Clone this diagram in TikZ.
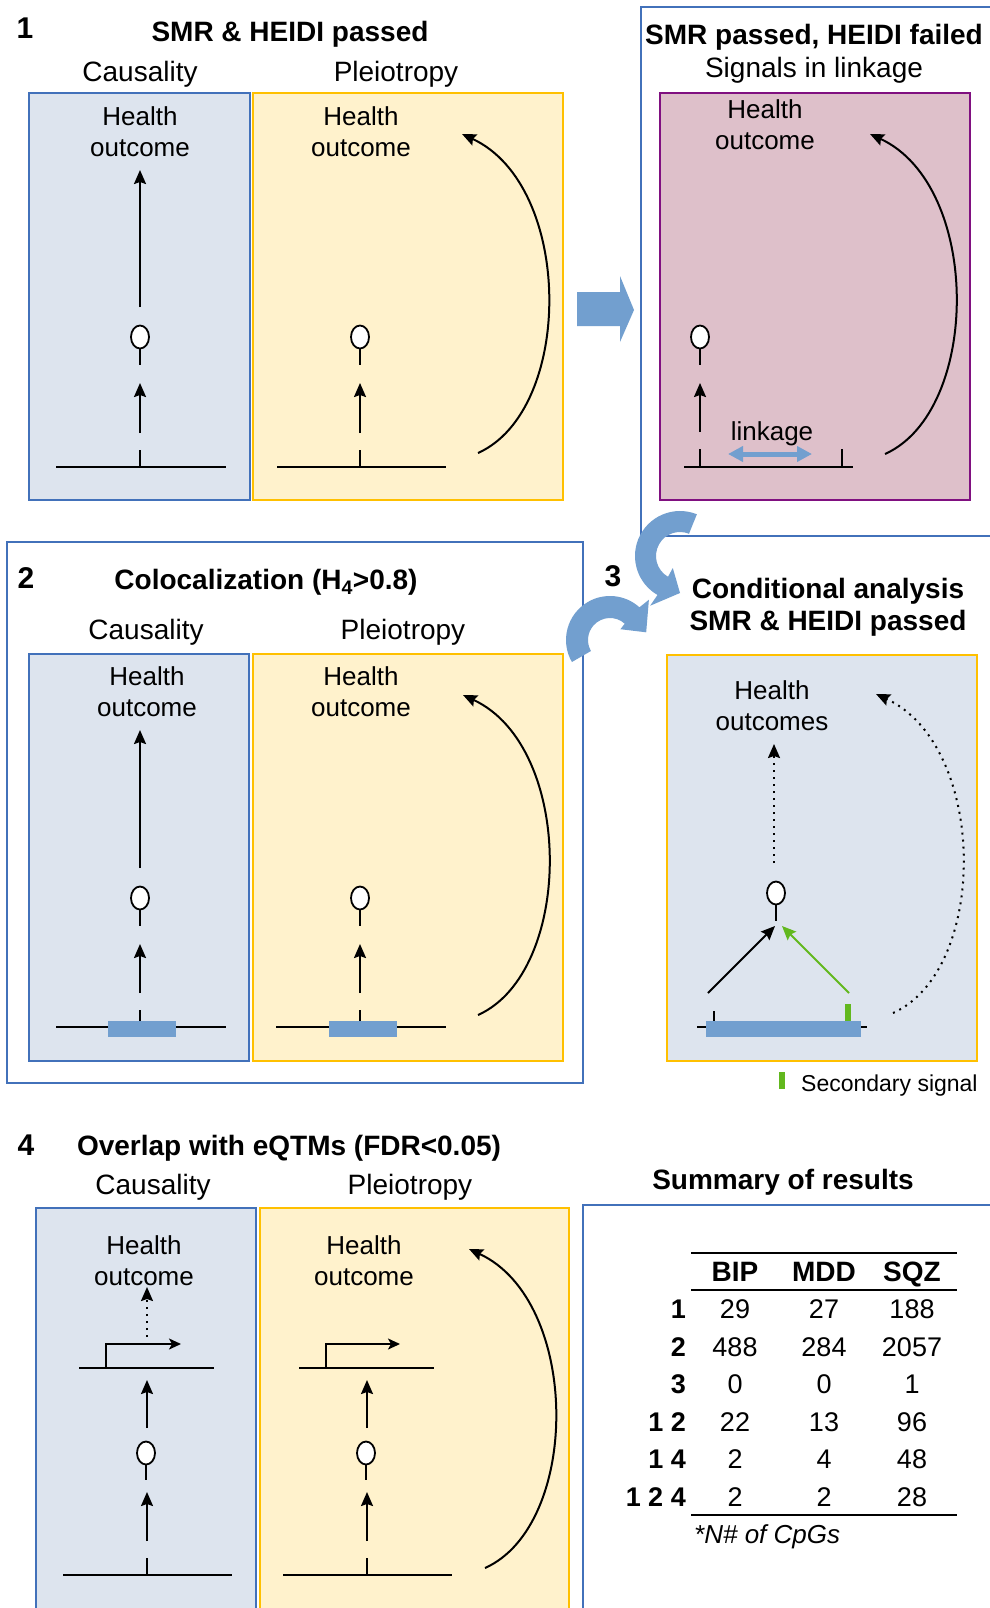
\documentclass[tikz,border=0pt]{standalone}
\usepackage{fontspec}
\setmainfont{Liberation Sans}
\usetikzlibrary{arrows.meta,shapes.geometric,calc}
\definecolor{bfill}{RGB}{221,228,238}
\definecolor{bline}{RGB}{66,113,186}
\definecolor{yfill}{RGB}{255,242,204}
\definecolor{yline}{RGB}{255,192,0}
\definecolor{pfill}{RGB}{222,192,202}
\definecolor{pline}{RGB}{128,16,128}
\definecolor{barrow}{RGB}{114,159,207}
\definecolor{gsig}{RGB}{98,184,30}
\begin{document}
\begin{tikzpicture}[x=1pt,y=-1pt,
 bbox/.style={draw=bline,fill=bfill,line width=2pt},
 ybox/.style={draw=yline,fill=yfill,line width=2pt},
 pbox/.style={draw=pline,fill=pfill,line width=2pt},
 obox/.style={draw=bline,line width=2pt},
 lnw/.style={line width=2pt},
 arrowtip/.style={-{Stealth[length=14pt,width=12pt,inset=2pt]}},
 arr/.style={lnw,arrowtip},
 darr/.style={lnw,arrowtip,dash pattern=on 2pt off 5pt},
 promo/.style={lnw,-{Stealth[length=12pt,width=11pt,inset=3pt]}},
 snp/.style={ellipse,draw,fill=white,line width=1.8pt,minimum width=18pt,minimum height=23pt,inner sep=0pt},
 ho/.style={font=\fontsize{26}{31}\selectfont,align=center,inner sep=0pt},
 ttl/.style={font=\fontsize{28}{34}\selectfont\bfseries,inner sep=0pt},
 sub/.style={font=\fontsize{28}{34}\selectfont,inner sep=0pt},
 pnum/.style={font=\fontsize{30}{36}\selectfont\bfseries,inner sep=0pt},
 tcell/.style={font=\fontsize{27}{32}\selectfont,inner sep=0pt,text height=19pt,text depth=0pt},
 hcell/.style={font=\fontsize{28}{34}\selectfont\bfseries,inner sep=0pt,text height=20pt,text depth=0pt},
 rlab/.style={font=\fontsize{27}{32}\selectfont\bfseries,inner sep=0pt,text height=19pt,text depth=0pt,anchor=east},
 tabrule/.style={line width=2pt},
 bigarrow/.style={fill=barrow,draw=none},
]
\fill[white] (0,0) rectangle (989,1608);
\useasboundingbox (0,0) rectangle (989,1608);

%% ---------------- Panel 1 ----------------
\node[pnum] (n1) at (25,28) {1};
\node[ttl] (t1) at (290,34) {SMR \& HEIDI passed};
\node[sub] (c1) at (140,74) {Causality};
\node[sub] (p1) at (396,74) {Pleiotropy};
\draw[bbox] (29,93) rectangle (250,500);
\draw[ybox] (253,93) rectangle (563,500);
% causality
\node[ho] (h1c) at (140,132) {Health\\outcome};
\node[snp] (s1c) at (140,337) {};
\coordinate (u1c) at (140,307); \coordinate (v1c) at (140,170);
\draw[arr] (u1c) -- (v1c);
\draw[lnw] (s1c.south) -- ++(0,16);
\coordinate (l1c) at (140,433); \coordinate (m1c) at (140,383);
\draw[arr] (l1c) -- (m1c);
\draw[lnw] (140,450) -- (140,467);
\draw[lnw] (56,467) -- (226,467);
% pleiotropy
\node[ho] (h1p) at (361,132) {Health\\outcome};
\node[snp] (s1p) at (360,337) {};
\draw[lnw] (s1p.south) -- ++(0,16);
\coordinate (l1p) at (360,433); \coordinate (m1p) at (360,383);
\draw[arr] (l1p) -- (m1p);
\draw[lnw] (360,450) -- (360,467);
\draw[lnw] (277,467) -- (446,467);
\coordinate (cs1p) at (478,453); \coordinate (ce1p) at (462,134);
\draw[arr] (cs1p) .. controls +(96,-43) and +(112,52) .. (ce1p);

% big arrow
\fill[bigarrow] (577,292) -- (620,292) -- (620,276) -- (634,310) -- (620,342) -- (620,326) -- (577,326) -- cycle;

%% ---------------- Panel 1b ----------------
\draw[obox] (641,7) rectangle (1000,536);
\node[ttl] (t1b) at (814,37) {SMR passed, HEIDI failed};
\node[sub] (sl) at (814,70) {Signals in linkage};
\draw[pbox] (660,93) rectangle (970,500);
\node[ho] (h1b) at (765,125) {Health\\outcome};
\node[snp] (s1b) at (700,337) {};
\draw[lnw] (s1b.south) -- ++(0,16);
\coordinate (l1b) at (700,432); \coordinate (m1b) at (700,383);
\draw[arr] (l1b) -- (m1b);
\draw[lnw] (700,449) -- (700,467);
\draw[lnw] (842,449) -- (842,467);
\draw[lnw] (684,467) -- (853,467);
\node[font=\fontsize{26}{31}\selectfont,inner sep=0pt] (lk) at (772,434) {linkage};
\coordinate (lka) at (728,454); \coordinate (lkb) at (812,454);
\draw[barrow,line width=5pt,{Triangle[length=15pt,width=15pt]}-{Triangle[length=15pt,width=15pt]}] (lka) -- (lkb);
\coordinate (cs1b) at (885,454); \coordinate (ce1b) at (870,134);
\draw[arr] (cs1b) .. controls +(96,-43) and +(112,52) .. (ce1b);

%% ---------------- Panel 2 ----------------
\draw[obox] (7,542) rectangle (583,1083);
\node[pnum] (n2) at (26,578) {2};
\node[ttl] (t2) at (266,582) {Colocalization (H\textsubscript{4}>0.8)};
\node[sub] (c2) at (146,632) {Causality};
\node[sub] (p2) at (403,632) {Pleiotropy};
\draw[bbox] (29,654) rectangle (249,1061);
\draw[ybox] (253,654) rectangle (563,1061);
% causality
\node[ho] (h2c) at (147,692) {Health\\outcome};
\node[snp] (s2c) at (140,898) {};
\coordinate (u2c) at (140,868); \coordinate (v2c) at (140,730);
\draw[arr] (u2c) -- (v2c);
\draw[lnw] (s2c.south) -- ++(0,16);
\coordinate (l2c) at (140,993); \coordinate (m2c) at (140,944);
\draw[arr] (l2c) -- (m2c);
\draw[lnw] (140,1010) -- (140,1027);
\draw[lnw] (56,1027) -- (226,1027);
\fill[barrow] (108,1021) rectangle (176,1037);
% pleiotropy
\node[ho] (h2p) at (361,692) {Health\\outcome};
\node[snp] (s2p) at (360,898) {};
\draw[lnw] (s2p.south) -- ++(0,16);
\coordinate (l2p) at (360,993); \coordinate (m2p) at (360,944);
\draw[arr] (l2p) -- (m2p);
\draw[lnw] (360,1010) -- (360,1027);
\draw[lnw] (276,1027) -- (446,1027);
\fill[barrow] (329,1021) rectangle (397,1037);
\coordinate (cs2p) at (478,1015); \coordinate (ce2p) at (463,695);
\draw[arr] (cs2p) .. controls +(96,-43) and +(112,52) .. (ce2p);

%% ---------------- Panel 3 ----------------
\node[pnum] (n3) at (613,576) {3};
\node[ttl] (t3a) at (828,591) {Conditional analysis};
\node[ttl] (t3b) at (828,623) {SMR \& HEIDI passed};
\draw[draw=yline,fill=bfill,line width=2pt] (667,655) rectangle (977,1061);
\node[ho] (h3) at (772,706) {Health\\outcomes};
\node[snp] (s3) at (776,893) {};
\coordinate (u3) at (774,863); \coordinate (v3) at (774,744);
\draw[darr] (u3) -- (v3);
\draw[lnw] (s3.south) -- ++(0,16);
\coordinate (la3) at (708,993); \coordinate (ma3) at (775,926);
\draw[arr] (la3) -- (ma3);
\coordinate (lg3) at (849,993); \coordinate (mg3) at (782,926);
\draw[arr,draw=gsig,fill=gsig] (lg3) -- (mg3);
\draw[lnw] (697,1027) -- (867,1027);
\draw[lnw] (714,1011) -- (714,1027);
\fill[barrow] (706,1021) rectangle (861,1037);
\fill[gsig] (845,1004) rectangle (851,1021);
\coordinate (cs3) at (893,1013); \coordinate (ce3) at (876,694);
\draw[darr] (cs3) .. controls +(96,-43) and +(112,52) .. (ce3);
\fill[gsig] (779,1072) rectangle (785,1089);
\node[anchor=west,font=\fontsize{23}{28}\selectfont,inner sep=0pt] (leg) at (801,1086) {Secondary signal};

%% ---------------- Panel 4 ----------------
\node[pnum] (n4) at (26,1145) {4};
\node[ttl] (t4) at (289,1148) {Overlap with eQTMs (FDR<0.05)};
\node[sub] (c4) at (153,1187) {Causality};
\node[sub] (p4) at (410,1187) {Pleiotropy};
\draw[bbox] (36,1208) rectangle (256,1620);
\draw[ybox] (260,1208) rectangle (569,1620);
% causality
\node[ho] (h4c) at (144,1261) {Health\\outcome};
\coordinate (d4a) at (147,1337); \coordinate (d4b) at (147,1287);
\draw[darr] (d4a) -- (d4b);
\draw[promo] (106,1368) -- (106,1344) -- (181,1344);
\draw[lnw] (79,1368) -- (214,1368);
\coordinate (u4c) at (147,1428); \coordinate (v4c) at (147,1380);
\draw[arr] (u4c) -- (v4c);
\node[snp] (s4c) at (146,1453) {};
\draw[lnw] (s4c.south) -- ++(0,15);
\coordinate (l4c) at (147,1541); \coordinate (m4c) at (147,1492);
\draw[arr] (l4c) -- (m4c);
\draw[lnw] (147,1558) -- (147,1575);
\draw[lnw] (63,1575) -- (232,1575);
% pleiotropy
\node[ho] (h4p) at (364,1261) {Health\\outcome};
\draw[promo] (326,1368) -- (326,1344) -- (400,1344);
\draw[lnw] (299,1368) -- (434,1368);
\coordinate (u4p) at (367,1428); \coordinate (v4p) at (367,1380);
\draw[arr] (u4p) -- (v4p);
\node[snp] (s4p) at (366,1453) {};
\draw[lnw] (s4p.south) -- ++(0,15);
\coordinate (l4p) at (367,1541); \coordinate (m4p) at (367,1492);
\draw[arr] (l4p) -- (m4p);
\draw[lnw] (367,1558) -- (367,1575);
\draw[lnw] (283,1575) -- (452,1575);
\coordinate (cs4p) at (485,1568); \coordinate (ce4p) at (469,1249);
\draw[arr] (cs4p) .. controls +(96,-43) and +(112,52) .. (ce4p);

%% ---------------- Summary ----------------
\node[ttl] (ts) at (783,1182) {Summary of results};
\draw[obox] (583,1205) rectangle (1000,1620);
\draw[tabrule] (691,1253) -- (957,1253);
\draw[tabrule] (691,1290) -- (957,1290);
\draw[tabrule] (691,1515) -- (957,1515);
\node[hcell] (hb) at (735,1271) {BIP};
\node[hcell] (hm) at (824,1271) {MDD};
\node[hcell] (hs) at (912,1271) {SQZ};
\foreach \y/\r/\a/\b/\c in {1309/1/29/27/188, 1347/2/488/284/2057, 1384/3/0/0/1, 1422/1 2/22/13/96, 1459/1 4/2/4/48, 1497/1 2 4/2/2/28}{
  \node[rlab] at (686,\y) {\r};
  \node[tcell] at (735,\y) {\a};
  \node[tcell] at (824,\y) {\b};
  \node[tcell] at (912,\y) {\c};
}
\node[anchor=west,font=\fontsize{26}{31}\selectfont\itshape,inner sep=0pt] (cpg) at (694,1537) {*N\# of CpGs};

%% ---------------- Curly arrows ----------------
\coordinate (cu) at (680,556);
\fill[barrow] ($(cu)+(-68:45)$) arc[start angle=-68, end angle=-240, radius=45]
  -- ($(cu)+(121:58)$) -- ($(cu)+(90:37)$) -- ($(cu)+(121:14)$) -- ($(cu)+(120:24)$)
  arc[start angle=120, end angle=292, radius=24] -- cycle;
\coordinate (cl) at (610,640);
\fill[barrow] ($(cl)+(150:44)$) arc[start angle=150, end angle=312, radius=44]
  -- ($(cl)+(314:56)$) -- ($(cl)+(348:37)$) -- ($(cl)+(314:15)$) -- ($(cl)+(312:22)$)
  arc[start angle=312, end angle=150, radius=22] -- cycle;
\end{tikzpicture}
\end{document}
